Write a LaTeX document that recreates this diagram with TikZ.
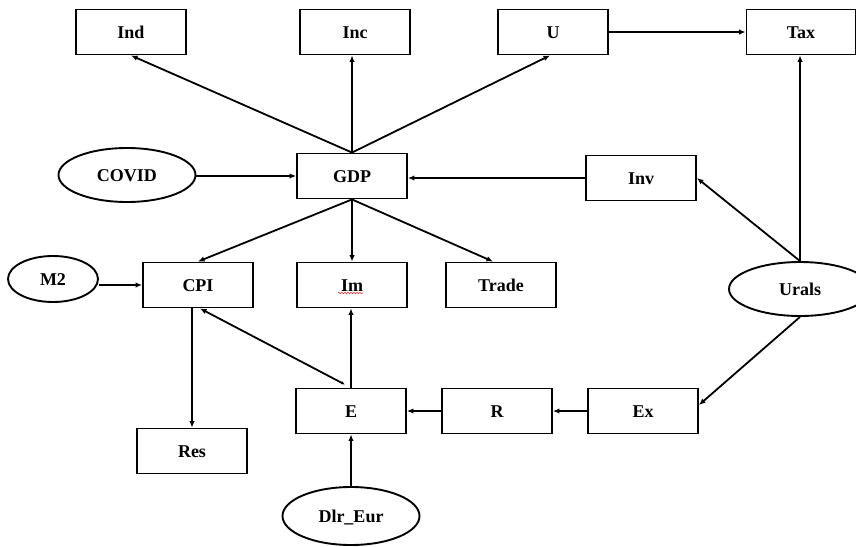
\documentclass[tikz,border=0pt]{standalone}
\usepackage{fontspec}
\setmainfont{Liberation Serif}
\usetikzlibrary{arrows.meta,shapes.geometric,decorations.pathmorphing}
\begin{document}
\begin{tikzpicture}[x=1pt,y=-1pt,
  every node/.style={font=\fontsize{18}{20}\selectfont\bfseries, inner sep=0pt, text height=14pt, text depth=2pt},
  box/.style={draw, line width=1.9pt, rectangle, minimum width=110pt, minimum height=45pt},
  oval/.style={draw, line width=1.9pt, ellipse},
  arr/.style={line width=1.8pt, -{Latex[length=6.5pt,width=5.5pt]}}]
\useasboundingbox (0,0) rectangle (856,546);
% boxes
\node[box] (Ind) at (131,32) {Ind};
\node[box] (Inc) at (355,32) {Inc};
\node[box] (U) at (553,32) {U};
\node[box, minimum width=109pt] (Tax) at (801,32) {Tax};
\node[box] (GDP) at (352,176) {GDP};
\node[box] (Inv) at (641,178) {Inv};
\node[box] (CPI) at (198,285) {CPI};
\node[box] (Im) at (352,285) {Im};
\node[box] (Trade) at (501,285) {Trade};
\node[box] (Res) at (192,451) {Res};
\node[box] (E) at (351,411) {E};
\node[box] (R) at (497,411) {R};
\node[box] (Ex) at (643,411) {Ex};
% ellipses
\node[oval, minimum width=137pt, minimum height=54pt] (COVID) at (127,175) {COVID};
\node[oval, minimum width=90pt, minimum height=46pt] (M2) at (53,279) {M2};
\node[oval, minimum width=142pt, minimum height=54pt] (Urals) at (800,289) {Urals};
\node[oval, minimum width=137pt, minimum height=58pt] (Dlr) at (351,516) {Dlr\_Eur};
% spell-check underline under Im
\draw[red!80, line width=0.6pt, decorate, decoration={snake, amplitude=0.8pt, segment length=3pt}]
  ([xshift=-14pt,yshift=-8pt]Im.center) -- ([xshift=11pt,yshift=-8pt]Im.center);
% connectors
\draw[arr] (GDP.north) -- (Ind.south);
\draw[arr] (GDP.north) -- (GDP.north |- Inc.south);
\draw[arr] (GDP.north) -- ([xshift=-3pt]U.south);
\draw[arr] (U.east) -- (Tax.west);
\draw[arr] (COVID.east |- GDP.west) -- (GDP.west);
\draw[arr] (Inv.west) -- (Inv.west -| GDP.east);
\draw[arr] (GDP.south) -- (CPI.north);
\draw[arr] (GDP.south) -- (Im.north);
\draw[arr] (GDP.south) -- ([xshift=-8pt]Trade.north);
\draw[arr] (M2.east |- CPI.west) -- (CPI.west);
\draw[arr] ([xshift=-6pt]CPI.south) -- ([xshift=-6pt]CPI.south |- Res.north);
\draw[line width=1.8pt, {Latex[length=4pt,width=3.5pt]}-{Latex[length=6.5pt,width=5.5pt]}] ([xshift=-6pt,yshift=3pt]E.north) -- ([xshift=2pt]CPI.south);
\draw[arr] (E.north) -- (E.north |- Im.south);
\draw[arr] (Urals.north) -- (Urals.north |- Tax.south);
\draw[arr] (Urals.north) -- (Inv.east);
\draw[arr] (Urals.south) -- ([yshift=6pt]Ex.east);
\draw[arr] (Ex.west) -- (R.east);
\draw[arr] (R.west) -- (E.east);
\draw[arr] (Dlr.north) -- (E.south);
\end{tikzpicture}
\end{document}
